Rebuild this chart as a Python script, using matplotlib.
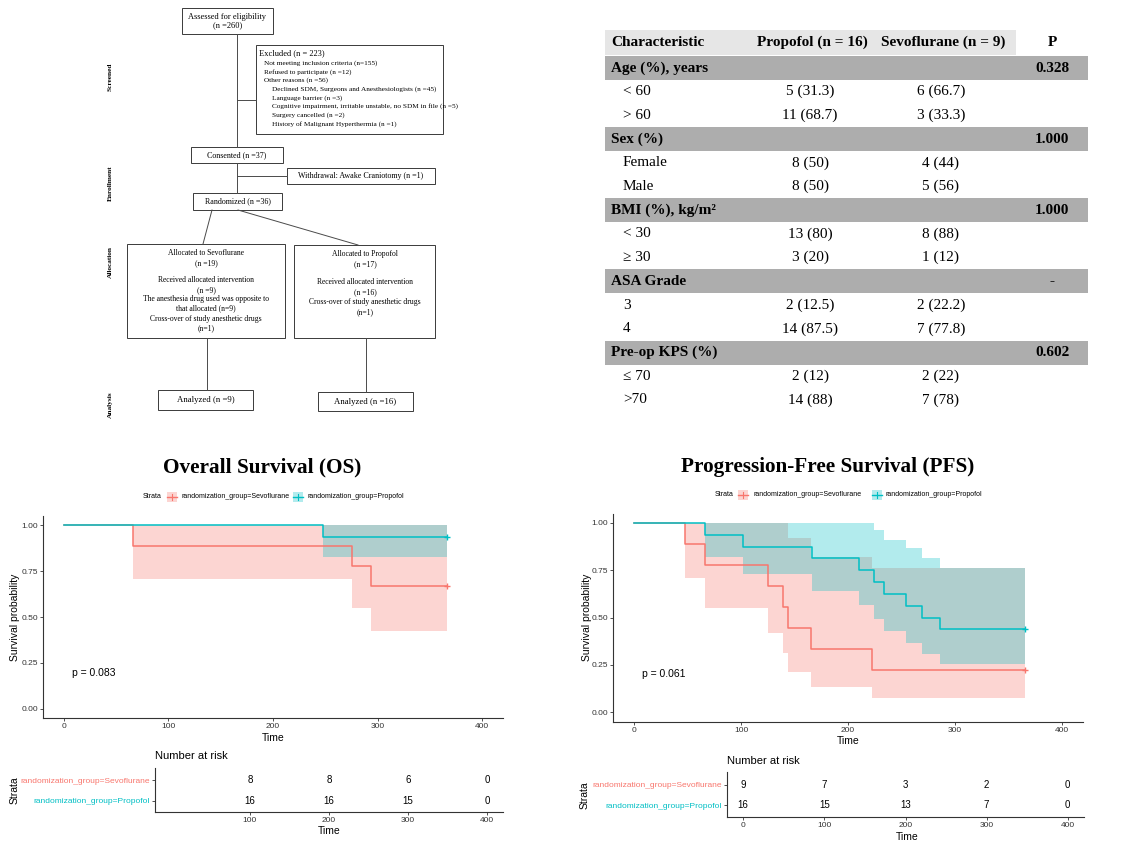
import matplotlib
matplotlib.use('Agg')
import matplotlib.pyplot as plt
from matplotlib.patches import Rectangle

W, H = 1121, 844
plt.rcParams['font.family'] = ['Liberation Sans', 'DejaVu Sans']
SERIF = ['Liberation Serif', 'DejaVu Serif']
RED = '#F8766D'
TEAL = '#00BFC4'

# ---------------- data ----------------
strata = ['randomization_group=Sevoflurane', 'randomization_group=Propofol']

os_sevo_time = [0, 66, 276, 294, 366]
os_sevo_surv = [1.0, 0.889, 0.778, 0.667, 0.667]
os_sevo_lower = [1.0, 0.707, 0.55, 0.424, 0.424]
os_sevo_upper = [1.0, 1.0, 1.0, 1.0, 1.0]
os_prop_time = [0, 248, 366]
os_prop_surv = [1.0, 0.9375, 0.9375]
os_prop_lower = [1.0, 0.826, 0.826]
os_prop_upper = [1.0, 1.0, 1.0]

pfs_sevo_time = [0, 47, 66, 125, 139, 144, 165, 222, 366]
pfs_sevo_surv = [1.0, 0.889, 0.778, 0.667, 0.556, 0.444, 0.333, 0.222, 0.222]
pfs_sevo_lower = [1.0, 0.709, 0.55, 0.42, 0.31, 0.21, 0.134, 0.074, 0.074]
pfs_sevo_upper = [1.0, 1.0, 1.0, 1.0, 1.0, 0.92, 0.82, 0.76, 0.76]
pfs_prop_time = [0, 66, 102, 166, 210, 224, 234, 254, 269, 286, 366]
pfs_prop_surv = [1.0, 0.9375, 0.875, 0.8125, 0.75, 0.6875, 0.625, 0.5625, 0.5, 0.4375, 0.4375]
pfs_prop_lower = [1.0, 0.82, 0.73, 0.64, 0.566, 0.49, 0.43, 0.367, 0.307, 0.254, 0.254]
pfs_prop_upper = [1.0, 1.0, 1.0, 1.0, 1.0, 0.963, 0.91, 0.866, 0.815, 0.76, 0.76]

os_risk_times = [100, 200, 300, 400]
os_risk_sevo = [8, 8, 6, 0]
os_risk_prop = [16, 16, 15, 0]
pfs_risk_times = [0, 100, 200, 300, 400]
pfs_risk_sevo = [9, 7, 3, 2, 0]
pfs_risk_prop = [16, 15, 13, 7, 0]
os_pvalue = 'p = 0.083'
pfs_pvalue = 'p = 0.061'

table_header = ['Characteristic', 'Propofol (n = 16)', 'Sevoflurane (n = 9)', 'P']
table_sections = ['Age (%), years', 'Sex (%)', 'BMI (%), kg/m\u00b2', 'ASA Grade', 'Pre-op KPS (%)']
table_p = ['0.328', '1.000', '1.000', '-', '0.602']
table_row_labels = [['< 60', '> 60'], ['Female', 'Male'], ['< 30', '\u2265 30'],
                    ['3', '4'], ['\u2264 70', '>70']]
table_propofol = [['5 (31.3)', '11 (68.7)'], ['8 (50)', '8 (50)'], ['13 (80)', '3 (20)'],
                  ['2 (12.5)', '14 (87.5)'], ['2 (12)', '14 (88)']]
table_sevoflurane = [['6 (66.7)', '3 (33.3)'], ['4 (44)', '5 (56)'], ['8 (88)', '1 (12)'],
                     ['2 (22.2)', '7 (77.8)'], ['2 (22)', '7 (78)']]

flow_stages = ['Screened', 'Enrollment', 'Allocation', 'Analysis']
flow_assessed = 'Assessed for eligibility\n(n =260)'
flow_excluded = ['Excluded (n = 223)',
                 'Not meeting inclusion criteria (n=155)',
                 'Refused to participate (n =12)',
                 'Other reasons (n =56)',
                 'Declined SDM, Surgeons and Anesthesiologists (n =45)',
                 'Language barrier (n =3)',
                 'Cognitive impairment, irritable unstable, no SDM in file (n =5)',
                 'Surgery cancelled (n =2)',
                 'History of Malignant Hyperthermia (n =1)']
flow_consented = 'Consented (n =37)'
flow_withdrawal = 'Withdrawal: Awake Craniotomy (n =1)'
flow_randomized = 'Randomized (n =36)'
flow_alloc_sevo = ['Allocated to Sevoflurane', '(n =19)', 'Received allocated intervention',
                   '(n =9)', 'The anesthesia drug used was opposite to', 'that allocated (n=9)',
                   'Cross-over of study anesthetic drugs', '(n=1)']
flow_alloc_prop = ['Allocated to Propofol', '(n =17)', 'Received allocated intervention',
                   '(n =16)', 'Cross-over of study anesthetic drugs', '(n=1)']
flow_analyzed = ['Analyzed (n =9)', 'Analyzed (n =16)']

# ---------------- figure ----------------
fig = plt.figure(figsize=(W / 100, H / 100), dpi=100)
ax0 = fig.add_axes([0, 0, 1, 1])
ax0.set_xlim(0, W)
ax0.set_ylim(H, 0)
ax0.axis('off')


def pax(x0, y0, x1, y1):
    return fig.add_axes([x0 / W, 1 - y1 / H, (x1 - x0) / W, (y1 - y0) / H])


def box(x0, y0, x1, y1):
    ax0.add_patch(Rectangle((x0, y0), x1 - x0, y1 - y0, fill=False, ec='#3a3a3a', lw=0.7))


def line(x0, y0, x1, y1):
    ax0.plot([x0, x1], [y0, y1], color='#4a4a4a', lw=0.7)


# ---- flowchart ----
fs = 5.5
box(182, 8, 273, 34)
ax0.text(227.5, 21, flow_assessed, ha='center', va='center', family=SERIF, fontsize=6, linespacing=1.15)
box(256, 45, 443, 134)
ex_x = [259, 264, 264, 264, 272, 272, 272, 272, 272]
ex_y = [53, 63, 72, 80, 89, 98, 106, 115, 124]
for i, t in enumerate(flow_excluded):
    ax0.text(ex_x[i], ex_y[i], t, ha='left', va='center', family=SERIF,
             fontsize=6 if i == 0 else 5.2)
line(237, 34, 237, 147)
line(237, 100, 256, 100)
box(191, 147, 283, 163)
ax0.text(237, 155, flow_consented, ha='center', va='center', family=SERIF, fontsize=5.8)
line(237, 163, 237, 193)
line(237, 176, 287, 176)
box(287, 168, 435, 184)
ax0.text(361, 176, flow_withdrawal, ha='center', va='center', family=SERIF, fontsize=5.8)
box(193, 193, 282, 210)
ax0.text(237.5, 201.5, flow_randomized, ha='center', va='center', family=SERIF, fontsize=5.8)
line(212, 210, 203, 244)
line(238, 210, 358, 245)
box(127, 244, 285, 338)
for t, yy in zip(flow_alloc_sevo, [253, 263, 280, 290, 299, 308, 319, 328]):
    ax0.text(206, yy, t, ha='center', va='center', family=SERIF, fontsize=fs)
box(294, 245, 435, 338)
for t, yy in zip(flow_alloc_prop, [254, 264, 282, 292, 302, 312]):
    ax0.text(365, yy, t, ha='center', va='center', family=SERIF, fontsize=fs)
line(207, 338, 207, 390)
line(366, 338, 366, 392)
box(158, 390, 253, 410)
ax0.text(205.5, 400, flow_analyzed[0], ha='center', va='center', family=SERIF, fontsize=6.3)
box(318, 392, 413, 411)
ax0.text(365.5, 401.5, flow_analyzed[1], ha='center', va='center', family=SERIF, fontsize=6.3)
for t, yy in zip(flow_stages, [77, 183, 262, 405]):
    ax0.text(110, yy, t, ha='center', va='center', rotation=90, family=SERIF,
             fontweight='bold', fontsize=5.3)

# ---- table ----
tfs = 11
ax0.add_patch(Rectangle((605, 30), 411, 25, color='#e6e6e6', lw=0))
hx = [611, 812, 943, 1052]
ha_h = ['left', 'center', 'center', 'center']
for t, x, a in zip(table_header, hx, ha_h):
    ax0.text(x, 42.5, t, ha=a, va='center', family=SERIF, fontweight='bold', fontsize=tfs)
pitch = 23.71
k = 0
for si, sec in enumerate(table_sections):
    yc = 68 + pitch * k
    ax0.add_patch(Rectangle((605, yc - 12), 483, 24, color='#adadad', lw=0))
    ax0.text(611, yc, sec, ha='left', va='center', family=SERIF, fontweight='bold', fontsize=tfs)
    ax0.text(1052, yc, table_p[si], ha='center', va='center', family=SERIF, fontweight='bold', fontsize=tfs)
    k += 1
    for ri in range(2):
        yr = 68 + pitch * k
        ax0.text(623, yr, table_row_labels[si][ri], ha='left', va='center', family=SERIF, fontsize=tfs)
        ax0.text(810, yr, table_propofol[si][ri], ha='center', va='center', family=SERIF, fontsize=tfs)
        ax0.text(941, yr, table_sevoflurane[si][ri], ha='center', va='center', family=SERIF, fontsize=tfs)
        k += 1


# ---- KM helpers ----
def style_axes(ax):
    for s in ['top', 'right']:
        ax.spines[s].set_visible(False)
    for s in ['left', 'bottom']:
        ax.spines[s].set_linewidth(0.8)
        ax.spines[s].set_color('#333333')
    ax.tick_params(labelsize=6, length=2.5, width=0.6, colors='#333333', pad=1.2)
    ax.set_facecolor('none')


def km_panel(box_px, series, pvalue, ptxt_xy):
    ax = pax(*box_px)
    for t, s, lo, hi, c in series:
        ax.fill_between(t, lo, hi, step='post', color=c, alpha=0.3, lw=0)
    for t, s, lo, hi, c in series:
        ax.step(t, s, where='post', color=c, lw=1.1)
        ax.plot(t[-1], s[-1], marker='+', color=c, ms=5, mew=1)
    ax.set_xlim(-20, 420)
    ax.set_ylim(-0.05, 1.05)
    ax.set_xticks([0, 100, 200, 300, 400])
    ax.set_yticks([0, 0.25, 0.5, 0.75, 1.0])
    ax.set_yticklabels(['0.00', '0.25', '0.50', '0.75', '1.00'])
    style_axes(ax)
    ax0.text(ptxt_xy[0], ptxt_xy[1], pvalue, ha='left', va='center', fontsize=7.5)
    return ax


def risk_panel(box_px, times, sevo, prop, xticks):
    ax = pax(*box_px)
    ax.set_xlim(-20, 420)
    ax.set_ylim(0.45, 2.6)
    for t, a, b in zip(times, sevo, prop):
        ax.text(t, 2, str(a), ha='center', va='center', fontsize=7)
        ax.text(t, 1, str(b), ha='center', va='center', fontsize=7)
    ax.set_xticks(xticks)
    ax.set_yticks([2, 1])
    ax.set_yticklabels(strata)
    style_axes(ax)
    ax.tick_params(axis='y', labelsize=6)
    for lbl, c in zip(ax.get_yticklabels(), [RED, TEAL]):
        lbl.set_color(c)
    return ax


def legend(x_strata, x_key1, x_txt1, x_key2, x_txt2, y):
    ax0.text(x_strata, y, 'Strata', ha='left', va='center', fontsize=5)
    for xk, xt, c, lab in [(x_key1, x_txt1, RED, strata[0]), (x_key2, x_txt2, TEAL, strata[1])]:
        ax0.add_patch(Rectangle((xk, y - 5), 10, 10, color=c, alpha=0.3, lw=0))
        ax0.plot([xk, xk + 10], [y, y], color=c, lw=1.0)
        ax0.plot([xk + 5, xk + 5], [y - 3, y + 3], color=c, lw=0.8)
        ax0.text(xt, y, lab, ha='left', va='center', fontsize=5)


# ---- OS ----
ax0.text(262, 467, 'Overall Survival (OS)', ha='center', va='center', family=SERIF,
         fontweight='bold', fontsize=15.3)
legend(143, 167, 182, 293, 308, 497)
km_panel((43, 516, 503, 718),
         [(os_sevo_time, os_sevo_surv, os_sevo_lower, os_sevo_upper, RED),
          (os_prop_time, os_prop_surv, os_prop_lower, os_prop_upper, TEAL)],
         os_pvalue, (72, 673))
ax0.text(15, 617, 'Survival probability', rotation=90, ha='center', va='center', fontsize=7.5)
ax0.text(273, 738, 'Time', ha='center', va='center', fontsize=7.5)
ax0.text(155, 756, 'Number at risk', ha='left', va='center', fontsize=8)
risk_panel((155, 768, 503, 812), os_risk_times, os_risk_sevo, os_risk_prop, [100, 200, 300, 400])
ax0.text(15, 790, 'Strata', rotation=90, ha='center', va='center', fontsize=7.5)
ax0.text(329, 831, 'Time', ha='center', va='center', fontsize=7.5)

# ---- PFS ----
ax0.text(828, 467, 'Progression-Free Survival (PFS)', ha='center', va='center', family=SERIF,
         fontweight='bold', fontsize=15.3)
legend(715, 738, 753, 872, 885, 495)
km_panel((613, 513.5, 1083, 721.5),
         [(pfs_sevo_time, pfs_sevo_surv, pfs_sevo_lower, pfs_sevo_upper, RED),
          (pfs_prop_time, pfs_prop_surv, pfs_prop_lower, pfs_prop_upper, TEAL)],
         pfs_pvalue, (642, 674))
ax0.text(587, 617, 'Survival probability', rotation=90, ha='center', va='center', fontsize=7.5)
ax0.text(848, 741, 'Time', ha='center', va='center', fontsize=7.5)
ax0.text(727, 761, 'Number at risk', ha='left', va='center', fontsize=8)
risk_panel((727, 772, 1084, 817), pfs_risk_times, pfs_risk_sevo, pfs_risk_prop, [0, 100, 200, 300, 400])
ax0.text(585, 795, 'Strata', rotation=90, ha='center', va='center', fontsize=7.5)
ax0.text(907, 837, 'Time', ha='center', va='center', fontsize=7.5)

fig.savefig('out.png', dpi=100)
